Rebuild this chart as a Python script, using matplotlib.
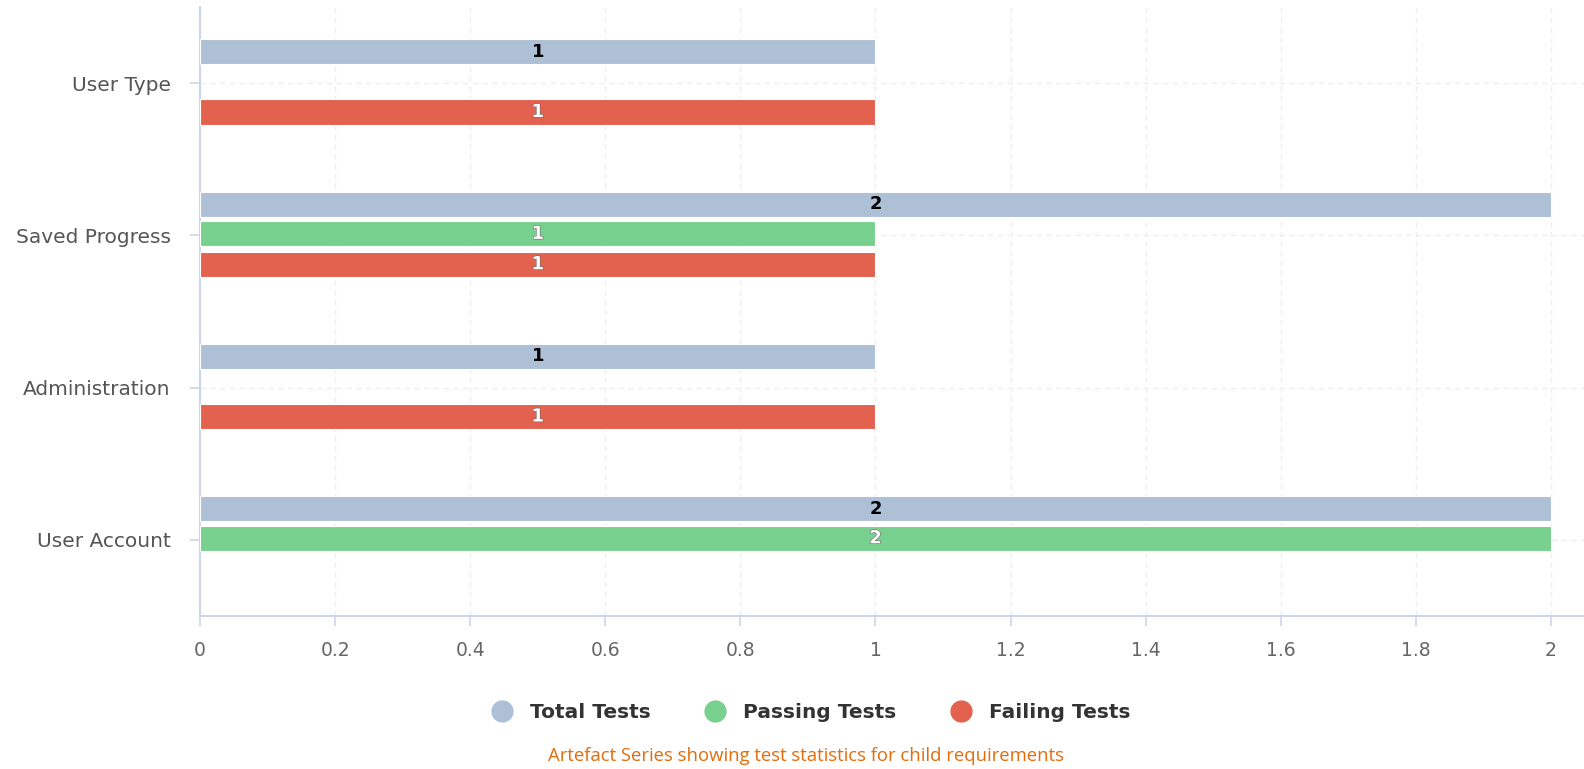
import numpy as np
import matplotlib
matplotlib.use("Agg")
import matplotlib.pyplot as plt
import matplotlib.patheffects as pe
from matplotlib.lines import Line2D

# Requirement categories (top to bottom) and test counts per series
categories = ["User Type", "Saved Progress", "Administration", "User Account"]
total_tests = [1, 2, 1, 2]
passing_tests = [None, 1, None, 2]
failing_tests = [1, 1, 1, None]
series_names = ["Total Tests", "Passing Tests", "Failing Tests"]
x_ticks = [0, 0.2, 0.4, 0.6, 0.8, 1, 1.2, 1.4, 1.6, 1.8, 2]
caption = "Artefact Series showing test statistics for child requirements"

colors = ["#adc0d6", "#78d08e", "#e2624f"]
label_colors = ["#000000", "#ffffff", "#ffffff"]
offsets = [-0.205, -0.01, 0.19]
bar_h = 0.165
axis_col = "#ccd6eb"
grid_col = "#efefef"

fig = plt.figure(figsize=(15.84, 7.69), dpi=100)
ax = fig.add_axes([200 / 1584, 1 - 616 / 769, 1 - 200 / 1584, (616 - 7) / 769])

y = np.arange(len(categories))
all_series = [total_tests, passing_tests, failing_tests]
for vals, col, lcol, off in zip(all_series, colors, label_colors, offsets):
    for yi, v in zip(y, vals):
        if v is None:
            continue
        ax.barh(yi + off, v, height=bar_h, color=col, edgecolor="white",
                linewidth=0.8, zorder=3)
        t = ax.text(v / 2, yi + off, f"{v:g}", ha="center", va="center",
                    fontsize=13, fontweight="bold", color=lcol, zorder=4)
        if lcol == "#ffffff":
            t.set_path_effects([pe.withStroke(linewidth=0.8, foreground="#666666")])

ax.set_xlim(0, 2.049)
ax.set_ylim(len(categories) - 0.5, -0.5)
ax.set_xticks(x_ticks)
ax.set_xticklabels([f"{v:g}" for v in x_ticks])
ax.set_yticks(y)
ax.set_yticklabels(categories)

ax.grid(True, axis="both", color=grid_col, linestyle=(0, (4, 3)), linewidth=1, zorder=0)
for s in ["top", "right"]:
    ax.spines[s].set_visible(False)
for s in ["left", "bottom"]:
    ax.spines[s].set_color(axis_col)
    ax.spines[s].set_linewidth(1.5)

ax.tick_params(axis="y", length=7, width=1.2, color=axis_col, pad=14,
               labelsize=14.5, labelcolor="#555555")
ax.tick_params(axis="x", length=7, width=1.2, color=axis_col, pad=11,
               labelsize=13.5, labelcolor="#666666")

handles = [Line2D([0], [0], marker="o", linestyle="none", markersize=15,
                  markerfacecolor=c, markeredgecolor=c) for c in colors]
leg = fig.legend(handles, series_names, loc="center", bbox_to_anchor=(0.509, 0.0735),
                 ncol=3, frameon=False, handletextpad=0.4, columnspacing=2.2,
                 prop={"weight": "bold", "size": 14.5})
for txt in leg.get_texts():
    txt.set_color("#333333")

fig.text(0.509, 0.017, caption, ha="center", va="center", fontsize=13.3,
         color="#e46c0a", family="Open Sans")

fig.savefig("out.png", dpi=100)
